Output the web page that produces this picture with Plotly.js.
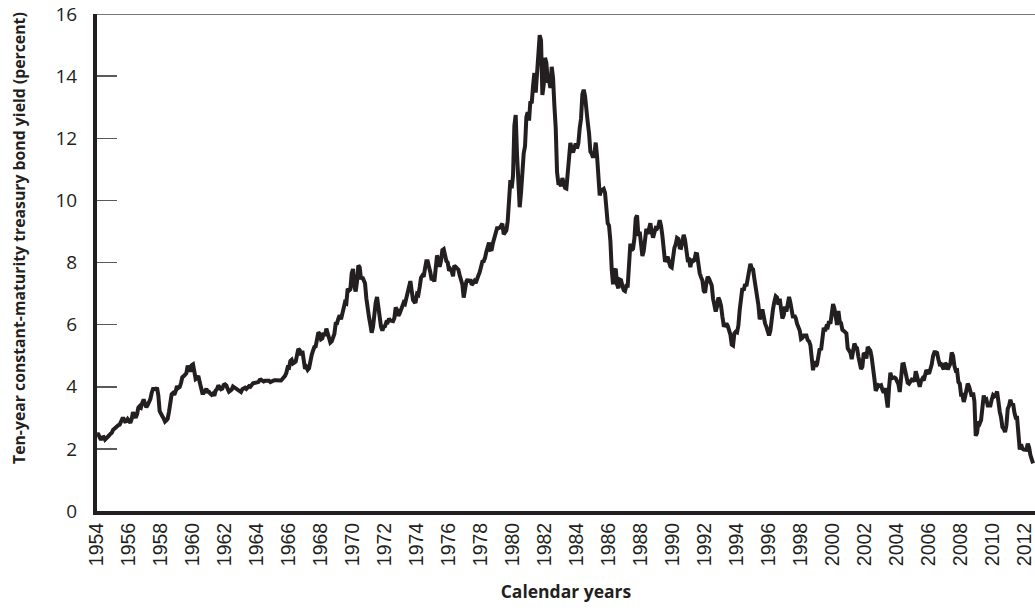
<!DOCTYPE html>
<html>
<head>
<meta charset="utf-8">
<script src="https://cdn.plot.ly/plotly-3.0.1.min.js"></script>
<style>
  html, body { margin: 0; padding: 0; background: #fff; }
  #chart { width: 1035px; height: 610px; }
</style>
</head>
<body>
<div id="chart"></div>
<script>
// Monthly ten-year constant-maturity treasury yields (percent)
const startYear = 1954;

const yields1954to1959 = [
  2.48, 2.47, 2.37, 2.29, 2.37, 2.38, 2.30, 2.36, 2.38, 2.43, 2.48, 2.51,
  2.61, 2.65, 2.68, 2.75, 2.76, 2.78, 2.90, 2.97, 2.97, 2.88, 2.89, 2.96,
  2.90, 2.84, 2.96, 3.18, 3.07, 3.00, 3.11, 3.33, 3.38, 3.34, 3.49, 3.59,
  3.46, 3.34, 3.41, 3.48, 3.60, 3.80, 3.93, 3.93, 3.92, 3.97, 3.72, 3.21,
  3.09, 3.05, 2.98, 2.88, 2.92, 2.97, 3.20, 3.54, 3.76, 3.80, 3.74, 3.86,
  4.02, 3.96, 3.99, 4.12, 4.31, 4.34, 4.40, 4.43, 4.68, 4.53, 4.53, 4.69
];

const yields1960s = [
  4.72, 4.49, 4.25, 4.28, 4.35, 4.15, 3.90, 3.80, 3.80, 3.89, 3.93, 3.84,
  3.84, 3.78, 3.74, 3.78, 3.71, 3.88, 3.92, 4.04, 3.98, 3.92, 3.94, 4.06,
  4.08, 4.04, 3.93, 3.84, 3.87, 3.91, 4.01, 3.98, 3.98, 3.93, 3.92, 3.86,
  3.83, 3.92, 3.93, 3.97, 3.93, 3.99, 4.02, 4.00, 4.08, 4.11, 4.12, 4.13,
  4.17, 4.15, 4.22, 4.23, 4.20, 4.17, 4.19, 4.19, 4.20, 4.19, 4.15, 4.18,
  4.19, 4.21, 4.21, 4.20, 4.21, 4.21, 4.20, 4.25, 4.29, 4.35, 4.45, 4.62,
  4.61, 4.83, 4.87, 4.75, 4.78, 4.81, 5.02, 5.22, 5.18, 5.01, 5.16, 4.84,
  4.58, 4.63, 4.54, 4.59, 4.85, 5.02, 5.16, 5.28, 5.30, 5.48, 5.75, 5.70,
  5.53, 5.56, 5.74, 5.64, 5.87, 5.72, 5.50, 5.42, 5.46, 5.58, 5.70, 6.03,
  6.04, 6.19, 6.30, 6.17, 6.32, 6.57, 6.72, 6.69, 7.16, 7.10, 7.14, 7.65
];

const yields1970s = [
  7.79, 7.24, 7.07, 7.39, 7.91, 7.84, 7.46, 7.53, 7.39, 7.33, 6.84, 6.39,
  6.24, 6.00, 5.74, 5.93, 6.41, 6.70, 6.89, 6.58, 6.14, 5.93, 5.81, 5.93,
  5.95, 6.08, 6.07, 6.19, 6.13, 6.11, 6.11, 6.21, 6.55, 6.48, 6.28, 6.36,
  6.46, 6.64, 6.71, 6.67, 6.85, 6.90, 7.13, 7.40, 7.09, 6.79, 6.73, 6.74,
  6.99, 6.96, 7.21, 7.51, 7.58, 7.54, 7.81, 8.04, 8.04, 7.90, 7.68, 7.43,
  7.50, 7.39, 7.73, 8.23, 8.06, 7.86, 8.06, 8.40, 8.43, 8.14, 8.05, 8.00,
  7.74, 7.79, 7.73, 7.56, 7.90, 7.86, 7.83, 7.77, 7.59, 7.41, 7.29, 6.87,
  7.21, 7.39, 7.46, 7.37, 7.46, 7.28, 7.33, 7.40, 7.34, 7.52, 7.58, 7.69,
  7.96, 8.03, 8.04, 8.15, 8.35, 8.46, 8.64, 8.41, 8.42, 8.64, 8.81, 9.01,
  9.10, 9.10, 9.12, 9.18, 9.25, 8.91, 8.95, 9.03, 9.33, 10.30, 10.65, 10.39
];

const yields1980s = [
  10.80, 12.41, 12.75, 11.47, 10.18, 9.78, 10.25, 11.10, 11.51, 11.75, 12.68, 12.84,
  12.57, 13.19, 13.12, 13.68, 14.10, 13.47, 14.28, 14.94, 15.32, 15.15, 13.39, 13.72,
  14.59, 14.43, 13.86, 13.87, 13.62, 14.30, 13.95, 13.06, 12.34, 10.91, 10.55, 10.54,
  10.46, 10.72, 10.51, 10.40, 10.38, 10.85, 11.38, 11.85, 11.65, 11.54, 11.69, 11.83,
  11.67, 11.84, 12.32, 12.63, 13.41, 13.56, 13.36, 12.72, 12.52, 12.16, 11.57, 11.50,
  11.38, 11.51, 11.86, 11.43, 10.85, 10.16, 10.31, 10.33, 10.37, 10.24, 9.78, 9.26,
  9.19, 8.70, 7.78, 7.30, 7.71, 7.80, 7.30, 7.17, 7.45, 7.43, 7.25, 7.11,
  7.08, 7.25, 7.25, 8.02, 8.61, 8.40, 8.45, 8.76, 9.42, 9.52, 8.86, 8.99,
  8.67, 8.21, 8.37, 8.72, 9.09, 8.92, 9.06, 9.26, 8.98, 8.80, 8.96, 9.11,
  9.09, 9.17, 9.36, 9.18, 8.86, 8.28, 8.02, 8.11, 8.19, 8.01, 7.87, 7.84
];

const yields1990s = [
  8.21, 8.47, 8.59, 8.79, 8.76, 8.48, 8.47, 8.75, 8.89, 8.72, 8.39, 8.08,
  8.09, 7.85, 8.11, 8.04, 8.07, 8.28, 8.27, 7.90, 7.65, 7.53, 7.42, 7.09,
  7.03, 7.34, 7.54, 7.48, 7.39, 7.26, 6.84, 6.59, 6.42, 6.59, 6.87, 6.77,
  6.60, 6.26, 5.98, 5.97, 6.04, 5.96, 5.81, 5.68, 5.36, 5.33, 5.72, 5.77,
  5.75, 5.97, 6.48, 6.97, 7.18, 7.10, 7.30, 7.24, 7.46, 7.74, 7.96, 7.81,
  7.78, 7.47, 7.20, 7.06, 6.63, 6.17, 6.28, 6.49, 6.20, 6.04, 5.93, 5.71,
  5.65, 5.81, 6.27, 6.51, 6.74, 6.91, 6.87, 6.64, 6.83, 6.53, 6.20, 6.30,
  6.58, 6.42, 6.69, 6.89, 6.71, 6.49, 6.22, 6.30, 6.21, 6.03, 5.88, 5.81,
  5.54, 5.57, 5.65, 5.64, 5.65, 5.50, 5.46, 5.34, 4.81, 4.53, 4.83, 4.65,
  4.72, 5.00, 5.23, 5.18, 5.54, 5.90, 5.79, 5.94, 5.92, 6.11, 6.03, 6.28
];

const yields2000s = [
  6.66, 6.52, 6.26, 5.99, 6.44, 6.10, 6.05, 5.83, 5.80, 5.74, 5.72, 5.24,
  5.16, 5.10, 4.89, 5.14, 5.39, 5.28, 5.24, 4.97, 4.73, 4.57, 4.65, 5.09,
  5.04, 4.91, 5.28, 5.21, 5.16, 4.93, 4.65, 4.26, 3.87, 3.94, 4.05, 4.03,
  4.05, 3.90, 3.81, 3.96, 3.57, 3.33, 3.98, 4.45, 4.27, 4.29, 4.30, 4.27,
  4.15, 4.08, 3.83, 4.35, 4.72, 4.73, 4.50, 4.28, 4.13, 4.10, 4.19, 4.23,
  4.22, 4.17, 4.50, 4.34, 4.14, 4.00, 4.18, 4.26, 4.20, 4.46, 4.54, 4.47,
  4.42, 4.57, 4.72, 4.99, 5.11, 5.11, 5.09, 4.88, 4.72, 4.73, 4.60, 4.56,
  4.76, 4.72, 4.56, 4.69, 4.75, 5.10, 5.00, 4.67, 4.52, 4.53, 4.15, 4.10,
  3.74, 3.74, 3.51, 3.68, 3.88, 4.10, 4.01, 3.89, 3.69, 3.81, 3.53, 2.42,
  2.52, 2.87, 2.82, 2.93, 3.29, 3.72, 3.56, 3.59, 3.40, 3.39, 3.40, 3.59
];

const yields2010to2012 = [
  3.73, 3.69, 3.73, 3.85, 3.42, 3.20, 3.01, 2.70, 2.65, 2.54, 2.76, 3.29,
  3.39, 3.58, 3.41, 3.46, 3.17, 3.00, 3.00, 2.30, 1.98, 2.15, 2.01, 1.98,
  1.97, 1.97, 2.17, 2.05, 1.80, 1.62, 1.53
];

const tickYears = [1954, 1956, 1958, 1960, 1962, 1964, 1966, 1968, 1970, 1972,
  1974, 1976, 1978, 1980, 1982, 1984, 1986, 1988, 1990, 1992, 1994, 1996,
  1998, 2000, 2002, 2004, 2006, 2008, 2010, 2012];
const yTicks = [0, 2, 4, 6, 8, 10, 12, 14, 16];

const yAxisTitle = 'Ten-year constant-maturity treasury bond yield (percent)';
const xAxisTitle = 'Calendar years';

const yields = [].concat(yields1954to1959, yields1960s, yields1970s,
  yields1980s, yields1990s, yields2000s, yields2010to2012);
const dates = yields.map((_, i) => startYear + i / 12);

const ink = '#231f20';

const trace = {
  type: 'scatter',
  mode: 'lines',
  x: dates,
  y: yields,
  line: { color: ink, width: 4, shape: 'linear' },
  hoverinfo: 'x+y',
  showlegend: false
};

const layout = {
  width: 1035,
  height: 610,
  margin: { l: 97, r: 0, t: 14, b: 99, pad: 0 },
  paper_bgcolor: '#ffffff',
  plot_bgcolor: '#ffffff',
  showlegend: false,
  xaxis: {
    range: [1954, 2012.62],
    tickmode: 'array',
    tickvals: tickYears,
    ticktext: tickYears.map(String),
    tickangle: -90,
    ticks: '',
    ticklabeloverflow: 'allow',
    showgrid: false,
    zeroline: false,
    showline: true,
    linewidth: 4,
    linecolor: ink,
    tickfont: { family: '"Liberation Sans", Arial, sans-serif', size: 19.5, color: ink },
    title: {
      text: xAxisTitle,
      font: { family: '"Open Sans", sans-serif', size: 17.5, color: ink, weight: 'bold' },
      standoff: 22
    }
  },
  yaxis: {
    range: [0, 16],
    tickmode: 'array',
    tickvals: yTicks,
    ticktext: yTicks.map(String),
    ticks: 'inside',
    ticklen: 20,
    tickwidth: 1.5,
    tickcolor: '#5a5a5a',
    ticklabelstandoff: 12,
    ticklabeloverflow: 'allow',
    showgrid: false,
    zeroline: false,
    showline: true,
    linewidth: 4,
    linecolor: ink,
    tickfont: { family: '"Open Sans", sans-serif', size: 19, color: ink }
  },
  shapes: [
    { type: 'line', xref: 'paper', yref: 'y', x0: 0, x1: 1, y0: 16, y1: 16,
      line: { color: '#4a4a4a', width: 1.5 }, layer: 'below' }
  ],
  annotations: [
    {
      text: yAxisTitle,
      xref: 'paper', yref: 'paper',
      x: -97 / 938 + 19 / 938, y: (511 - 238) / 497,
      xanchor: 'center', yanchor: 'middle',
      textangle: -90,
      showarrow: false,
      font: { family: '"Open Sans", sans-serif', size: 15.8, color: ink, weight: 'bold' }
    }
  ]
};

Plotly.newPlot('chart', [trace], layout, { staticPlot: true, displayModeBar: false });
</script>
</body>
</html>
